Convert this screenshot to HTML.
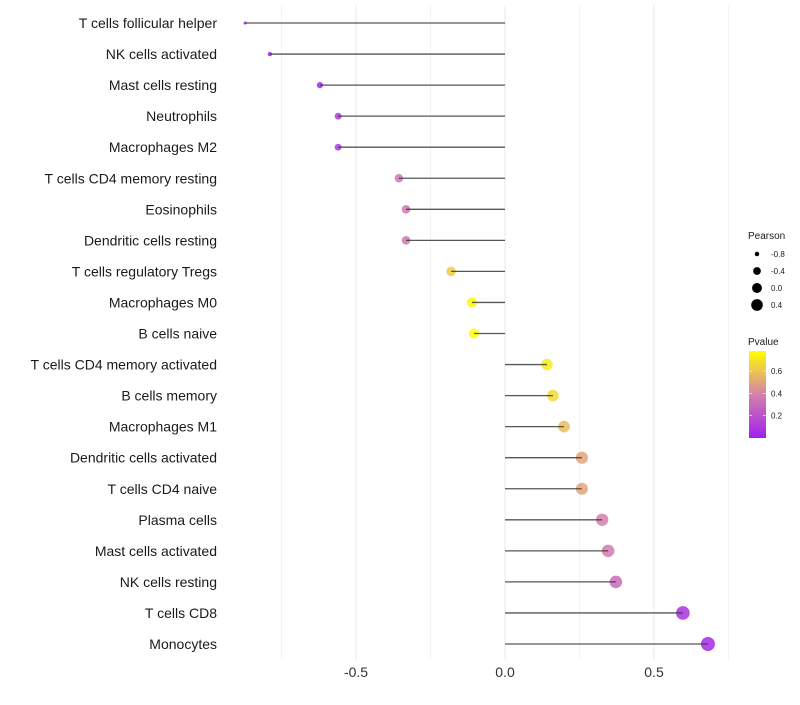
<!DOCTYPE html>
<html><head><meta charset="utf-8"><style>
body{margin:0;background:#fff;font-family:"Liberation Sans",sans-serif}
</style></head><body>
<svg id="chart" width="800" height="700" xmlns="http://www.w3.org/2000/svg"></svg>
<script>
const categories=["T cells follicular helper","NK cells activated","Mast cells resting","Neutrophils","Macrophages M2","T cells CD4 memory resting","Eosinophils","Dendritic cells resting","T cells regulatory  Tregs ","Macrophages M0","B cells naive","T cells CD4 memory activated","B cells memory","Macrophages M1","Dendritic cells activated","T cells CD4 naive","Plasma cells","Mast cells activated","NK cells resting","T cells CD8","Monocytes"];
const pearson=[-0.872,-0.789,-0.621,-0.56,-0.56,-0.356,-0.332,-0.332,-0.181,-0.111,-0.104,0.141,0.161,0.198,0.258,0.258,0.326,0.346,0.372,0.597,0.681];
const pvalues=[0.02,0.03,0.06,0.1,0.1,0.35,0.35,0.35,0.62,0.76,0.77,0.72,0.66,0.58,0.5,0.5,0.38,0.36,0.3,0.07,0.04];
const xTicks=[-0.5,0,0.5];
const xMinor=[-0.75,-0.25,0.25,0.75];
const sizeTicks=[-0.8,-0.4,0.0,0.4];
const colorTicks=[0.2,0.4,0.6];

const svg=document.getElementById('chart');
const NS='http://www.w3.org/2000/svg';
function mk(t,a,p){const e=document.createElementNS(NS,t);for(const k in a)e.setAttribute(k,a[k]);(p||svg).appendChild(e);return e;}
const x=v=>505+v*298;
const y=i=>23+i*31.05;
const rad=v=>Math.sqrt(2.5+(v+0.87)*(46.5/1.55));
function lerp(a,b,t){return a.map((c,i)=>Math.round(c+(b[i]-c)*t));}
function col(p){const t=Math.max(0,Math.min(1,p/0.78));const s=[[160,32,240],[214,128,170],[255,255,0]];
 const c=t<0.5?lerp(s[0],s[1],t*2):lerp(s[1],s[2],(t-0.5)*2);return `rgb(${c})`;}

xMinor.forEach(v=>{const l=mk('line',{x1:x(v),x2:x(v),y1:5,y2:660,stroke:'#f4f4f4','stroke-width':1});
});
xTicks.forEach(v=>{const l=mk('line',{x1:x(v),x2:x(v),y1:5,y2:660,stroke:'#ececec','stroke-width':1.1});

const t=mk('text',{x:x(v),y:677,'text-anchor':'middle','font-size':14,fill:'#333'});t.textContent=v===0?'0.0':v.toFixed(1);
});

categories.forEach((c,i)=>{
 const t=mk('text',{x:217,y:y(i)+5,'text-anchor':'end','font-size':14,fill:'#1a1a1a'});t.textContent=c;
 
 const d=mk('circle',{cx:x(pearson[i]),cy:y(i),r:rad(pearson[i]),fill:col(pvalues[i]),'fill-opacity':0.85});
 
 const l=mk('line',{x1:x(0),x2:x(pearson[i]),y1:y(i),y2:y(i),stroke:'#3a3a3a','stroke-width':1.3,'stroke-opacity':0.85});
 
});

const st=mk('text',{x:748,y:239,'font-size':10,fill:'#1a1a1a'});st.textContent='Pearson';

sizeTicks.forEach((v,i)=>{const cy=254+i*17;
 const c=mk('circle',{cx:757,cy:cy,r:rad(v)*0.85+0.4,fill:'#000'});
 
 const t=mk('text',{x:771,y:cy+3,'font-size':8,fill:'#1a1a1a'});t.textContent=v.toFixed(1);
 });

const ct=mk('text',{x:748,y:345,'font-size':10,fill:'#1a1a1a'});ct.textContent='Pvalue';

const defs=mk('defs',{});const g=mk('linearGradient',{id:'pg',x1:0,y1:1,x2:0,y2:0},defs);
[0,0.25,0.5,0.75,1].forEach(o=>mk('stop',{offset:o,'stop-color':col(o*0.78)},g));
const bar=mk('rect',{x:749,y:351,width:17,height:87,fill:'url(#pg)'});

colorTicks.forEach(v=>{const yy=438-v/0.78*87;
 mk('line',{x1:749,x2:752,y1:yy,y2:yy,stroke:'#fff','stroke-width':0.6});mk('line',{x1:763,x2:766,y1:yy,y2:yy,stroke:'#fff','stroke-width':0.6});
 const t=mk('text',{x:771,y:yy+3,'font-size':8,fill:'#1a1a1a'});t.textContent=v.toFixed(1);
 });
</script>
</body></html>
